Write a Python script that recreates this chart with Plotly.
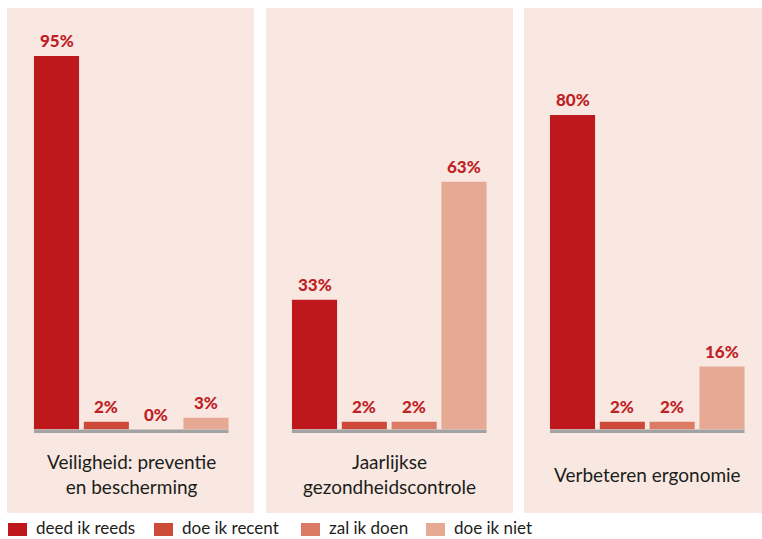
import plotly.graph_objects as go

W, H = 762, 539

categories = ["Veiligheid: preventie<br>en bescherming",
              "Jaarlijkse<br>gezondheidscontrole",
              "Verbeteren ergonomie"]
series_names = ["deed ik reeds", "doe ik recent", "zal ik doen", "doe ik niet"]
deed_ik_reeds = [95, 33, 80]
doe_ik_recent = [2, 2, 2]
zal_ik_doen = [0, 2, 2]
doe_ik_niet = [3, 63, 16]
series_values = [deed_ik_reeds, doe_ik_recent, zal_ik_doen, doe_ik_niet]

colors = ["#be181c", "#cc4a37", "#db7a65", "#e6a993"]
label_color = "#c01f26"
panel_bg = "#f8e8e1"
text_color = "#1d1d1b"
font_family = "Lato, 'Open Sans', sans-serif"

panels_px = [(7, 254), (266, 513), (524, 762)]
bars_left_px = [34, 292, 550]
bars_span = 194.5
pad = 2.4
y_zero_px = 429.5
px_per_pct = 373.5 / 95
y_top_px = y_zero_px - 100 * px_per_pct
bargap = 0.095

fig = go.Figure()
shapes = []
annotations = []

for i, cat in enumerate(categories):
    ax = "" if i == 0 else str(i + 1)
    xa = "x" + ax
    ya = "y" + ax
    vals = [s[i] for s in series_values]
    fig.add_trace(go.Bar(
        x=series_names, y=vals, marker=dict(color=colors, line=dict(width=0)),
        xaxis=xa, yaxis=ya, showlegend=False, hoverinfo="skip"))
    d0 = (bars_left_px[i] - pad) / W
    d1 = (bars_left_px[i] + bars_span + pad) / W
    fig.update_layout(**{
        "xaxis" + ax: dict(domain=[d0, d1], range=[-0.5, 3.5], visible=False,
                           anchor=ya, fixedrange=True),
        "yaxis" + ax: dict(domain=[1 - y_zero_px / H, 1 - y_top_px / H], range=[0, 100],
                           visible=False, anchor=xa, fixedrange=True),
    })
    # panel background
    p0, p1 = panels_px[i]
    shapes.append(dict(type="rect", xref="paper", yref="paper", layer="below",
                       x0=p0 / W, x1=p1 / W, y0=1 - 513 / H, y1=1 - 8 / H,
                       fillcolor=panel_bg, line=dict(width=0)))
    # baseline
    shapes.append(dict(type="rect", xref=xa, yref="paper", layer="above",
                       x0=-0.5 + bargap / 2, x1=3.5 - bargap / 2,
                       y0=1 - 433 / H, y1=1 - 429.5 / H,
                       fillcolor="#a3a3a3", line=dict(width=0)))
    # value labels
    for j, v in enumerate(vals):
        annotations.append(dict(xref=xa, yref=ya, x=series_names[j], y=v,
                                text=f"{v}%", showarrow=False,
                                yanchor="bottom", yshift=3,
                                font=dict(family=font_family, size=17, color=label_color,
                                          weight=900)))
    # category label
    cx = (bars_left_px[i] + bars_span / 2) / W
    annotations.append(dict(xref="paper", yref="paper", x=cx,
                            y=1 - 474 / H, text=cat, showarrow=False,
                            xanchor="center", yanchor="middle",
                            font=dict(family=font_family, size=19, color=text_color)))

# legend
leg_sq = [8, 154, 301, 426]
for k, name in enumerate(series_names):
    shapes.append(dict(type="rect", xref="paper", yref="paper",
                       x0=leg_sq[k] / W, x1=(leg_sq[k] + 19) / W,
                       y0=1 - 536 / H, y1=1 - 523 / H,
                       fillcolor=colors[k], line=dict(width=0)))
    annotations.append(dict(xref="paper", yref="paper", x=(leg_sq[k] + 27) / W,
                            y=0, text=name, showarrow=False, borderpad=0,
                            xanchor="left", yanchor="bottom",
                            font=dict(family=font_family, size=17, color=text_color)))

fig.update_layout(
    width=W, height=H, margin=dict(l=0, r=0, t=0, b=0),
    paper_bgcolor="white", plot_bgcolor="rgba(0,0,0,0)",
    bargap=bargap, shapes=shapes, annotations=annotations,
    showlegend=False,
)

fig.write_html("out.html", config={"displayModeBar": False, "staticPlot": True},
               post_script="document.body.style.margin='0';document.body.style.overflow='hidden';")
